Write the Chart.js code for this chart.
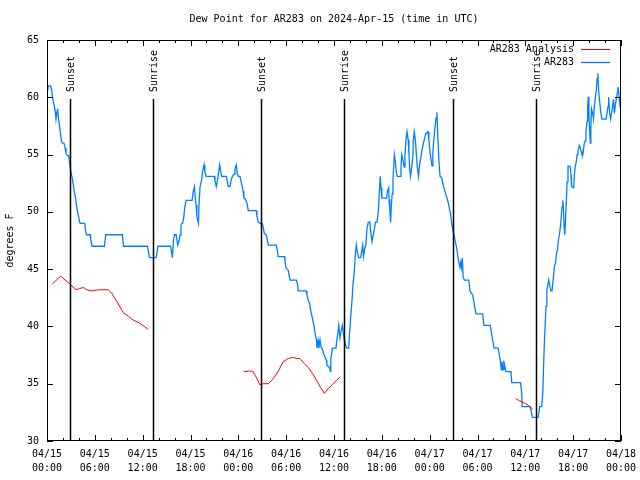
<!DOCTYPE html>
<html>
<head>
<meta charset="utf-8">
<title>Dew Point for AR283</title>
<script src="https://cdn.jsdelivr.net/npm/chart.js@4.4.1/dist/chart.umd.min.js"></script>
<style>
  html, body { margin: 0; padding: 0; background: #fff; }
</style>
</head>
<body>
<canvas id="dewChart" width="640" height="480"></canvas>
<script>
// hours since 04/15 00:00 UTC -> dew point (degrees F)
var obsHours = [
  0, 0.17, 0.46, 0.59, 0.75, 0.92, 1.05, 1.13, 1.26, 1.34,
  1.46, 1.59, 1.72, 1.8, 1.92, 2.13, 2.26, 2.38, 2.55, 2.72,
  2.8, 2.93, 3.05, 3.18, 3.31, 3.43, 3.56, 3.68, 3.81, 3.93,
  4.1, 4.18, 4.73, 4.81, 4.94, 5.4, 5.48, 5.65, 7.2, 7.36,
  9.46, 9.6, 12.6, 12.85, 13.7, 13.9, 15.5, 15.65, 15.73, 15.86,
  16, 16.2, 16.4, 16.57, 16.7, 16.8, 16.9, 17, 17.15, 17.28,
  17.45, 18.2, 18.35, 18.5, 18.57, 18.7, 18.8, 19, 19.07, 19.2,
  19.4, 19.5, 19.7, 19.8, 19.95, 21, 21.07, 21.24, 21.37, 21.5,
  21.66, 21.8, 21.9, 22.5, 22.6, 22.75, 22.95, 23.08, 23.25, 23.46,
  23.58, 23.75, 23.87, 24, 24.2, 24.33, 24.46, 24.6, 24.7, 24.9,
  25.1, 25.25, 26.25, 26.34, 26.5, 26.76, 27, 27.1, 27.26, 27.5,
  27.68, 27.76, 28.76, 28.9, 29, 29.8, 29.85, 29.98, 30.27, 30.4,
  30.5, 31.3, 31.45, 31.5, 32.5, 32.6, 32.8, 32.95, 33.1, 33.3,
  33.4, 33.5, 33.66, 33.8, 33.87, 34, 34.1, 34.25, 34.37, 34.5,
  34.7, 34.87, 35.04, 35.1, 35.3, 35.46, 35.54, 35.6, 35.8, 36.25,
  36.3, 36.5, 36.6, 36.75, 36.9, 37.05, 37.2, 37.3, 37.4, 37.6,
  37.85, 37.9, 38.1, 38.26, 38.4, 38.55, 38.67, 38.8, 38.9, 39.1,
  39.35, 39.5, 39.6, 39.7, 39.85, 40, 40.14, 40.3, 40.5, 40.6,
  40.77, 40.9, 41.06, 41.2, 41.4, 41.56, 41.7, 41.8, 41.9, 42,
  42.6, 42.7, 42.86, 42.9, 43, 43.1, 43.2, 43.3, 43.4, 43.57,
  43.7, 43.8, 43.94, 44.3, 44.4, 44.5, 44.66, 44.8, 44.9, 45.03,
  45.16, 45.3, 45.4, 45.5, 45.6, 45.75, 45.9, 45.95, 46.07, 46.2,
  46.3, 46.45, 46.6, 46.7, 46.8, 46.95, 47.1, 47.25, 47.4, 47.5,
  47.8, 47.9, 48.04, 48.17, 48.3, 48.4, 48.5, 48.67, 48.8, 48.9,
  49, 49.1, 49.2, 49.3, 49.5, 49.8, 50.3, 50.6, 50.8, 51.1,
  51.4, 51.6, 51.8, 51.9, 52, 52.1, 52.2, 52.35, 52.9, 53.06,
  53.4, 53.65, 53.8, 54.65, 54.8, 55.6, 55.9, 56.1, 56.6, 56.9,
  57, 57.07, 57.2, 57.3, 57.5, 57.6, 58.2, 58.3, 59.4, 59.55,
  59.6, 60.6, 60.9, 61.6, 61.8, 62.05, 62.2, 62.3, 62.4, 62.5,
  62.6, 62.7, 62.93, 63.2, 63.35, 63.55, 63.64, 63.8, 63.9, 64.05,
  64.14, 64.27, 64.4, 64.5, 64.6, 64.7, 64.78, 64.87, 64.95, 65.05,
  65.15, 65.23, 65.35, 65.6, 65.73, 65.8, 66.07, 66.15, 66.27, 66.4,
  66.5, 66.6, 66.77, 66.9, 67, 67.1, 67.2, 67.3, 67.4, 67.5,
  67.6, 67.74, 67.82, 67.9, 67.97, 68.05, 68.15, 68.22, 68.3, 68.45,
  68.55, 68.65, 68.78, 68.9, 69, 69.1, 69.2, 69.3, 69.45, 69.6,
  70.12, 70.25, 70.37, 70.45, 70.58, 70.7, 70.8, 70.9, 71.04, 71.17,
  71.3, 71.4, 71.54, 71.6, 71.7, 71.8, 71.9, 72
];
var obsDewpt = [
  60.3, 61, 61, 60.6, 59.7, 59.3, 58.7, 58.1, 58.8, 59,
  58, 57.4, 56.7, 56.2, 56, 56, 55.6, 55.1, 54.9, 54.9,
  54.5, 53.8, 53.3, 52.9, 52.3, 51.7, 51.3, 50.7, 50.1, 49.7,
  49.1, 49, 49, 48.5, 48, 48, 47.6, 47, 47, 48,
  48, 47, 47, 46, 46, 47, 47, 46.4, 46, 47.5,
  48, 48, 47.1, 47.5, 48, 48.8, 49, 49, 49.5, 50.4,
  51, 51, 51.8, 52.2, 51.4, 50.6, 49.6, 49, 50.6, 52.2,
  52.8, 53.5, 54.1, 53.5, 53.1, 53.1, 52.7, 52.2, 52.7, 53.3,
  54.1, 53.5, 53.1, 53.1, 52.7, 52.2, 52.2, 52.7, 53.1, 53.3,
  53.8, 54.1, 53.3, 53.1, 53.1, 52.7, 52.3, 51.8, 51.2, 51.1,
  50.7, 50.1, 50.1, 49.6, 49.1, 49, 49, 48.7, 48.1, 48,
  47.4, 47.1, 47.1, 46.6, 46.1, 46.1, 45.7, 45.1, 44.9, 44.3,
  44.05, 44.05, 43.6, 43.1, 43.1, 42.8, 42.2, 42, 41.3, 40.7,
  40.3, 40, 39.25, 38.8, 38.1, 38.8, 38.1, 38.8, 38.2, 38.1,
  37.65, 37.3, 37.07, 36.6, 36.5, 36.4, 36.05, 37.1, 38.1, 38.1,
  38.5, 39.5, 40.1, 39, 39.6, 40.1, 39.3, 38.8, 38.5, 38.1,
  38.1, 38.8, 40.85, 42.3, 43.8, 44.8, 46.2, 47.1, 46.6, 46,
  46, 46.7, 47.1, 46.1, 46.8, 47.1, 48.55, 49.1, 49.1, 48.3,
  47.4, 47.9, 48.5, 49.1, 49.1, 50, 51.9, 53.1, 52.1, 51.2,
  51.2, 51.8, 52.1, 51.1, 50.2, 49.1, 50.6, 51.6, 52.8, 55,
  54.4, 53.5, 53.1, 53.1, 53.9, 55, 54.5, 53.9, 55, 56.3,
  57, 56.3, 55.1, 53.7, 53.1, 53.9, 55, 56.3, 57, 56.3,
  55.3, 53.9, 53.1, 53.9, 54.4, 55, 55.6, 56.1, 56.5, 56.8,
  57, 56.3, 55.2, 54.6, 54, 55.2, 56.1, 57.4, 58.2, 58.7,
  57, 55.4, 54, 53.1, 53, 52.05, 50.9, 49.9, 48.85, 47.8,
  46.8, 45.8, 45.15, 45.6, 45.15, 46, 44.3, 44.05, 44.05, 43.1,
  42.75, 41.7, 41.1, 41.1, 40.1, 40.1, 38.8, 38.1, 38.1, 36.8,
  36.2, 36.9, 36.2, 37, 36.2, 36.05, 36.05, 35.1, 35.1, 34.15,
  33, 33, 32.07, 32.07, 33, 33, 34.3, 36.8, 38.8, 40.3,
  41.8, 43.2, 44.05, 43.1, 43.1, 44.5, 45.2, 45.6, 46.4, 46.7,
  47.5, 48, 48.7, 49.5, 50.45, 51, 50.3, 48.7, 48, 49.5,
  51, 52.6, 54, 54, 53.2, 52.2, 52.1, 53.2, 54, 54.4,
  55, 55.3, 55.8, 55.6, 55.3, 55, 54.95, 55.5, 56, 56.2,
  56.9, 57.9, 59.3, 60.05, 58.6, 57.4, 56, 57.4, 59, 58.6,
  58.1, 59.1, 60, 60.6, 61.65, 62.1, 60.5, 59.8, 58.75, 58.1,
  58.1, 58.6, 59.2, 60, 58.6, 58.1, 58.6, 59, 59.8, 58.6,
  59.4, 59.8, 60.4, 60.9, 60.5, 59.8, 59.1, 59
];

// analysis runs, null = gap between runs
var anaHours = [
  0.67, 1.72, 2.26, 2.89, 3.64, 4.05, 4.56, 4.98, 5.6, 6.44,
  7.69, 8.1, 8.74, 9.57, 10.2, 10.8, 11.45, 12.08, 12.7, 18,
  24.7, 25.25, 25.8, 26.3, 26.7, 27.13, 27.76, 28.2, 28.8, 29.2,
  29.6, 30.27, 30.8, 31.3, 31.7, 32.2, 32.8, 33.3, 33.8, 34.3,
  34.8, 35.3, 35.8, 36.3, 36.8, 48,
  58.8, 59.3, 59.8, 60.4, 60.9
];
var anaDewpt = [
  43.7, 44.4, 44.05, 43.7, 43.2, 43.3, 43.4, 43.2, 43.1, 43.2,
  43.2, 42.9, 42.2, 41.2, 40.9, 40.56, 40.35, 40.06, 39.75, null,
  36.05, 36.1, 36.1, 35.5, 34.9, 35.0, 35.0, 35.3, 35.85, 36.35,
  36.9, 37.2, 37.3, 37.2, 37.2, 36.8, 36.4, 35.9, 35.3, 34.7,
  34.16, 34.6, 34.9, 35.3, 35.6, null,
  33.7, 33.5, 33.35, 33.1, 32.8
];

var sunHours = [2.92, 13.33, 26.88, 37.29, 50.97, 61.38];
var sunLabels = ['Sunset', 'Sunrise', 'Sunset', 'Sunrise', 'Sunset', 'Sunrise'];

var tickDays = ['04/15', '04/15', '04/15', '04/15', '04/16', '04/16', '04/16',
                '04/16', '04/17', '04/17', '04/17', '04/17', '04/18'];
var tickTimes = ['00:00', '06:00', '12:00', '18:00', '00:00', '06:00', '12:00',
                 '18:00', '00:00', '06:00', '12:00', '18:00', '00:00'];

var MONO = '"DejaVu Sans Mono", "Liberation Mono", monospace';
Chart.defaults.font.family = MONO;
Chart.defaults.font.size = 10;
Chart.defaults.color = '#000';

function toPoints(xs, ys) {
  return xs.map(function(h, i) { return { x: h, y: ys[i] }; });
}

// frame, inward ticks, sunrise/sunset markers and the legend
var decorations = {
  id: 'decorations',
  afterDatasetsDraw: function(chart) {
    var ctx = chart.ctx;
    var a = chart.chartArea;
    var xs = chart.scales.x;
    var ys = chart.scales.y;
    ctx.save();
    ctx.strokeStyle = '#000';
    ctx.fillStyle = '#000';
    ctx.lineWidth = 1;

    ctx.strokeRect(a.left + 0.5, a.top + 0.5, a.right - a.left - 1, a.bottom - a.top - 1);

    ctx.beginPath();
    for (var h = 0; h <= 72; h += 2) {
      var x = Math.round(xs.getPixelForValue(h)) + 0.5;
      var len = h % 6 === 0 ? 6 : 3;
      ctx.moveTo(x, a.bottom); ctx.lineTo(x, a.bottom - len);
      ctx.moveTo(x, a.top); ctx.lineTo(x, a.top + len);
    }
    ys.ticks.forEach(function(t) {
      var y = Math.round(ys.getPixelForValue(t.value)) + 0.5;
      ctx.moveTo(a.left, y); ctx.lineTo(a.left + 6, y);
      ctx.moveTo(a.right, y); ctx.lineTo(a.right - 6, y);
    });
    ctx.stroke();

    ctx.lineWidth = 1.5;
    ctx.font = '10px ' + MONO;
    sunHours.forEach(function(sh, i) {
      var x = Math.round(xs.getPixelForValue(sh)) + 0.5;
      ctx.beginPath();
      ctx.moveTo(x, a.top + 59);
      ctx.lineTo(x, a.bottom);
      ctx.stroke();
      ctx.save();
      ctx.translate(x + 1, a.top + 52);
      ctx.rotate(-Math.PI / 2);
      ctx.textAlign = 'left';
      ctx.textBaseline = 'middle';
      ctx.fillText(sunLabels[i], 0, 0);
      ctx.restore();
    });

    // legend, top right inside the plot
    ctx.textAlign = 'right';
    ctx.textBaseline = 'middle';
    chart.data.datasets.forEach(function(ds, i) {
      var y = a.top + 9.5 + i * 13;
      ctx.fillStyle = '#000';
      ctx.fillText(ds.label, a.right - 47, y);
      ctx.strokeStyle = ds.borderColor;
      ctx.lineWidth = ds.borderWidth;
      ctx.beginPath();
      ctx.moveTo(a.right - 40, y);
      ctx.lineTo(a.right - 11, y);
      ctx.stroke();
    });
    ctx.restore();
  }
};

var ctx = document.getElementById('dewChart').getContext('2d');
var dewChart = new Chart(ctx, {
  type: 'line',
  data: {
    datasets: [{
      label: 'AR283 Analysis',
      data: toPoints(anaHours, anaDewpt),
      borderColor: 'rgb(255, 0, 0)',
      borderWidth: 1,
      pointRadius: 0,
      spanGaps: false
    }, {
      label: 'AR283',
      data: toPoints(obsHours, obsDewpt),
      borderColor: 'rgb(0, 128, 255)',
      borderWidth: 1.3,
      pointRadius: 0
    }]
  },
  options: {
    responsive: false,
    animation: false,
    layout: { padding: { left: 0, right: 19, top: 0, bottom: 0 } },
    plugins: {
      legend: { display: false },
      tooltip: { enabled: false },
      title: {
        display: true,
        fullSize: false,
        text: 'Dew Point for AR283 on 2024-Apr-15 (time in UTC)',
        font: { size: 10, weight: 'normal' },
        color: '#000',
        padding: { top: 13, bottom: 15 }
      }
    },
    scales: {
      x: {
        type: 'linear',
        min: 0,
        max: 72,
        grid: { display: false, drawTicks: false },
        border: { display: false },
        ticks: {
          stepSize: 6,
          autoSkip: false,
          maxRotation: 0,
          padding: 6,
          font: { size: 10, lineHeight: 1.4 },
          callback: function(v) {
            var i = Math.round(v / 6);
            return [tickDays[i], tickTimes[i]];
          }
        },
        afterFit: function(scale) {
          scale.height = 39;
          scale.paddingLeft = 0;
          scale.paddingRight = 0;
        }
      },
      y: {
        min: 30,
        max: 65,
        grid: { display: false, drawTicks: false },
        border: { display: false },
        ticks: { stepSize: 5, padding: 8 },
        title: { display: true, text: 'degrees F', padding: { top: 4, bottom: 0 } },
        afterFit: function(scale) { scale.width = 47; }
      }
    }
  },
  plugins: [decorations]
});
</script>
</body>
</html>
